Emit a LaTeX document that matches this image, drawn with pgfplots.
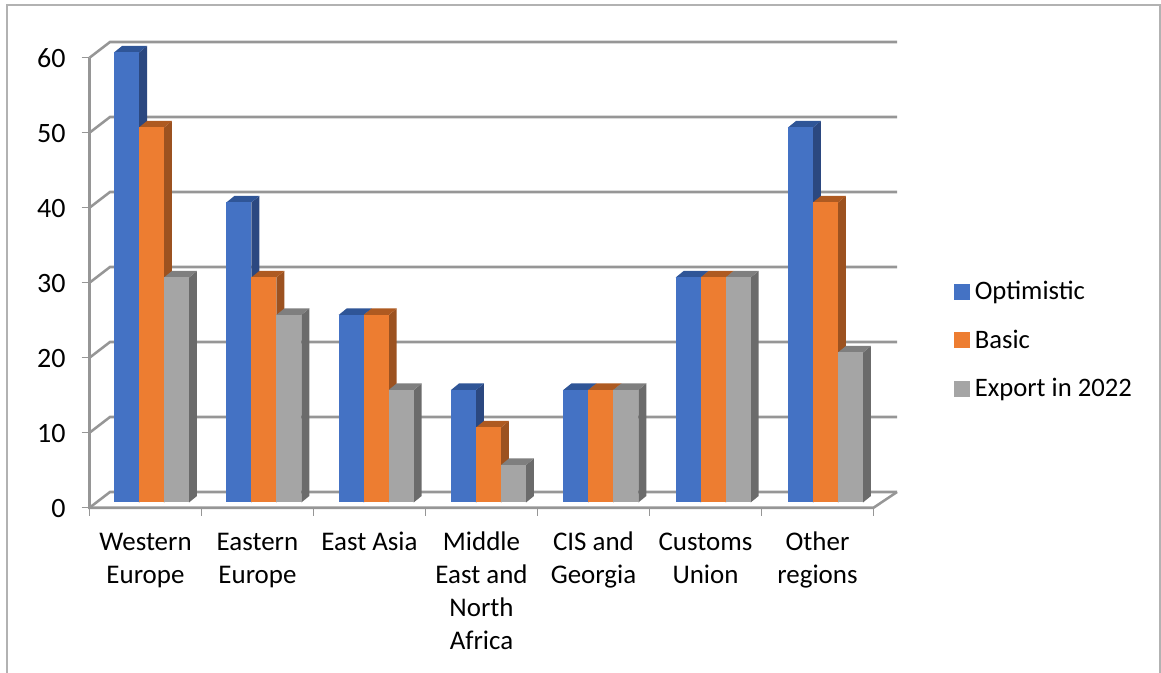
\documentclass[border=0pt]{standalone}
\usepackage{fontspec}
\setmainfont{Carlito}
\usepackage{pgfplots}
\pgfplotsset{compat=1.18}

\definecolor{optfront}{HTML}{4472C4}
\definecolor{optside}{HTML}{2B4880}
\definecolor{opttop}{HTML}{2F5597}
\definecolor{basfront}{HTML}{ED7D31}
\definecolor{basside}{HTML}{9C5220}
\definecolor{bastop}{HTML}{AE5A21}
\definecolor{expfront}{HTML}{A5A5A5}
\definecolor{expside}{HTML}{6B6B6B}
\definecolor{exptop}{HTML}{7F7F7F}
\definecolor{wall}{HTML}{969696}

% one bar with its depth: category, value, offset in px, front, side, top
\newcommand{\deepbar}[6]{%
  \pgfmathsetmacro\off{#3+0.33*#1}%
  \pgfmathsetmacro\xl{#1+(\off-12.5)/112}%
  \pgfmathsetmacro\xr{#1+(\off+12.5)/112}%
  \pgfmathsetmacro\xld{\xl+8/112}%
  \pgfmathsetmacro\xrd{\xr+8/112}%
  \pgfmathsetmacro\yd{#2+0.867}%
  \pgfmathsetmacro\bshift{\off*0.75}%
  \edef\temp{%
    \noexpand\addplot[fill=#5,draw=none,forget plot] coordinates {(\xr,0) (\xrd,0.867) (\xrd,\yd) (\xr,#2)} --cycle;
    \noexpand\addplot[fill=#6,draw=none,forget plot] coordinates {(\xl,#2) (\xr,#2) (\xrd,\yd) (\xld,\yd)} --cycle;
    \noexpand\addplot[ybar,bar width=18.75pt,bar shift=\bshift pt,fill=#4,draw=none,forget plot] coordinates {(#1,#2)};
  }\temp
}
\newcommand{\bargroup}[4]{%
  \deepbar{#1}{#2}{-19}{optfront}{optside}{opttop}%
  \deepbar{#1}{#3}{6}{basfront}{basside}{bastop}%
  \deepbar{#1}{#4}{31}{expfront}{expside}{exptop}%
}
% wall line at a given value
\newcommand{\wallline}[3]{%
  \addplot[wall,line width=1.9pt,forget plot] coordinates {(-0.5,#2) (-0.317,#3) (6.71,#3)};
  \addplot[wall,line width=1.1pt,forget plot] coordinates {(-0.571,#2) (-0.5,#2)};
}
\newcommand{\xmark}[1]{%
  \addplot[wall,line width=1.1pt,forget plot] coordinates {(#1,-0.7) (#1,-1.8)};
}

\begin{document}
\begin{tikzpicture}
\useasboundingbox (-67.125pt,-127.875pt) rectangle (803.625pt,376.875pt);
\draw[color=black!30,line width=0.9pt] (-61.875pt,-127.875pt) -- (-61.875pt,373.125pt) -- (802.875pt,373.125pt) -- (802.875pt,-127.875pt);
\begin{axis}[
    at={(0pt,0pt)}, anchor=south west,
    scale only axis,
    width=588pt, height=337.5pt,
    xmin=-0.5, xmax=6.5,
    ymin=0, ymax=60,
    clip=false,
    axis line style={draw=none},
    tick style={draw=none},
    xtick={0,1,2,3,4,5,6},
    xticklabels={{\strut Western\\Europe},{\strut Eastern\\Europe},{\strut East Asia},{\strut Middle\\East and\\North\\Africa},{\strut CIS and\\Georgia},{\strut Customs\\Union},{\strut Other\\regions}},
    ytick={0,10,20,30,40,50,60},
    /pgf/number format/assume math mode=true,
    xticklabel style={font=\fontsize{20.2}{24.75}\selectfont,text=black,align=center,yshift=-15pt},
    yticklabel style={font=\fontsize{21}{24.75}\selectfont,text=black,anchor=east,yshift=-4.5pt,xshift=-14.5pt},
    legend style={at={(1.0976,0.361)},anchor=west,draw=none,fill=none,
      font=\fontsize{20}{24.75}\selectfont,row sep=17.2pt,
      /tikz/every odd column/.append style={column sep=1.75pt}},
    legend cell align=left,
    legend image code/.code={\fill[#1] (0pt,-5.6pt) rectangle (11.25pt,5.6pt);},
]
\addlegendimage{optfront}\addlegendentry{Optimistic}
\addlegendimage{basfront}\addlegendentry{Basic}
\addlegendimage{expfront}\addlegendentry{Export in 2022}

\wallline{0}{-0.7}{1.4}
\wallline{10}{9.3}{11.4}
\wallline{20}{19.3}{21.4}
\wallline{30}{29.3}{31.4}
\wallline{40}{39.3}{41.4}
\wallline{50}{49.3}{51.4}
\wallline{60}{59.3}{61.4}
\addplot[wall,line width=1.9pt,forget plot] coordinates {(-0.5,59.3) (-0.5,-0.7) (6.5,-0.7) (6.71,1.4)};
\xmark{-0.5}\xmark{0.5}\xmark{1.5}\xmark{2.5}\xmark{3.5}\xmark{4.5}\xmark{5.5}\xmark{6.5}

\bargroup{0}{60}{50}{30}
\bargroup{1}{40}{30}{25}
\bargroup{2}{25}{25}{15}
\bargroup{3}{15}{10}{5}
\bargroup{4}{15}{15}{15}
\bargroup{5}{30}{30}{30}
\bargroup{6}{50}{40}{20}
\end{axis}
\end{tikzpicture}
\end{document}
